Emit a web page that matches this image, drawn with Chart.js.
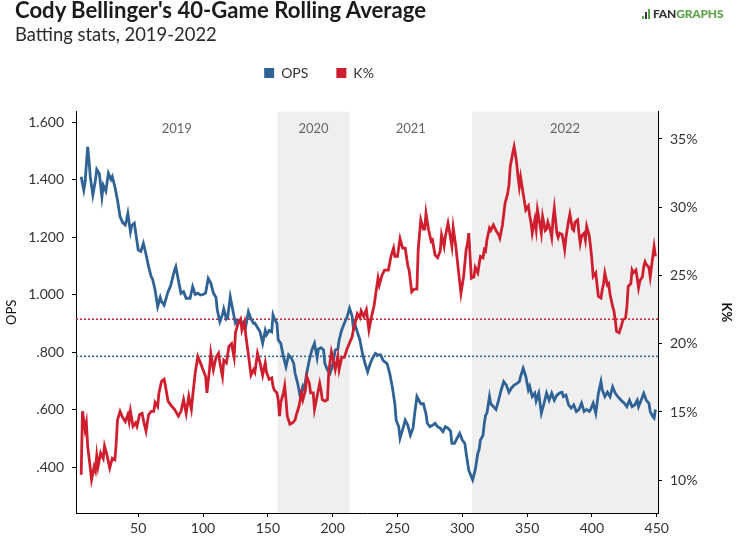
<!DOCTYPE html>
<html>
<head>
<meta charset="utf-8">
<script src="https://cdn.jsdelivr.net/npm/chart.js@4.4.1/dist/chart.umd.min.js"></script>
<style>
  html, body { margin: 0; padding: 0; background: #fff; overflow: hidden; }
  #wrap { position: relative; width: 738px; height: 541px; font-family: Lato, sans-serif; }
  #chart { position: absolute; left: 0; top: 0; }
  .hd { position: absolute; left: 15px; white-space: nowrap; line-height: 1.2; color: #1b1b1b; }
  #title { top: -3px; font-size: 21px; font-weight: 700; }
  #subtitle { top: 23px; font-size: 17px; color: #2a2a2a; }
  #logo { position: absolute; top: 7px; left: 641px; white-space: nowrap; font-size: 12px; font-weight: 900; line-height: 1.2; letter-spacing: -0.2px; }
  #logo .bars { display: inline-block; width: 12px; height: 10px; position: relative; vertical-align: -1px; }
  #logo .bars i { position: absolute; bottom: 0; width: 2px; }
  #logo .fan { color: #333; }
  #logo .graphs { color: #5aa547; }
</style>
</head>
<body>
<div id="wrap">
  <canvas id="chart" width="738" height="541"></canvas>
  <div class="hd" id="title">Cody Bellinger's 40-Game Rolling Average</div>
  <div class="hd" id="subtitle">Batting stats, 2019-2022</div>
  <div id="logo"><span class="bars"><i style="left:1px;height:3px;background:#5aa547"></i><i style="left:4px;height:7px;background:#333"></i><i style="left:7px;height:10px;background:#5aa547"></i></span><span class="fan">FAN</span><span class="graphs">GRAPHS</span></div>
</div>
<script>
// [game number, 40-game rolling OPS]
const opsByGame = [
  [6,1.41],[8,1.363],[9,1.39],[11,1.514],[12,1.468],[13,1.41],[15,1.346],[17,1.398],[18,1.435],[20,1.42],
  [22,1.34],[23,1.38],[25,1.36],[27,1.422],[29,1.40],[30,1.41],[32,1.375],[34,1.329],[36,1.271],[38,1.25],
  [40,1.242],[41,1.26],[42,1.282],[44,1.218],[45,1.24],[47,1.248],[50,1.155],[52,1.15],[54,1.178],[56,1.14],
  [58,1.097],[60,1.062],[61,1.055],[63,1.016],[65,0.958],[67,0.99],[68,0.975],[70,0.963],[73,1.01],[75,1.03],
  [78,1.085],[79,1.097],[81,1.05],[83,1.004],[85,1.01],[87,0.987],[90,0.987],[92,1.027],[94,1.0],[96,1.005],
  [98,0.998],[100,1.0],[102,1.005],[104,1.056],[106,1.04],[108,1.005],[110,0.99],[111,0.946],[113,0.905],[115,0.93],
  [116,0.95],[118,0.915],[119,0.92],[121,0.992],[123,0.945],[125,0.90],[127,0.91],[129,0.9],[131,0.905],[133,0.89],
  [135,0.94],[137,0.915],[139,0.90],[140,0.9],[142,0.885],[144,0.87],[146,0.83],[148,0.875],[149,0.86],[151,0.875],
  [153,0.87],[154,0.929],[155,0.917],[157,0.9],[158,0.842],[160,0.83],[162,0.784],[164,0.749],[166,0.79],[168,0.78],
  [170,0.76],[171,0.726],[173,0.691],[175,0.645],[177,0.68],[178,0.67],[180,0.726],[182,0.772],[184,0.807],[186,0.83],
  [188,0.78],[189,0.81],[191,0.815],[193,0.807],[194,0.76],[196,0.737],[198,0.726],[200,0.755],[202,0.807],[204,0.81],
  [205,0.842],[207,0.877],[209,0.9],[211,0.92],[213,0.952],[215,0.925],[216,0.882],[217,0.9],[219,0.87],[221,0.842],
  [223,0.795],[225,0.76],[227,0.731],[229,0.76],[231,0.78],[233,0.795],[235,0.79],[237,0.79],[239,0.77],[242,0.76],
  [244,0.726],[246,0.679],[248,0.62],[249,0.563],[251,0.54],[252,0.5],[254,0.53],[256,0.563],[258,0.545],[260,0.511],
  [262,0.535],[263,0.575],[265,0.645],[268,0.62],[270,0.62],[272,0.585],[273,0.552],[275,0.54],[277,0.545],[279,0.552],
  [281,0.54],[283,0.535],[285,0.523],[287,0.54],[289,0.535],[291,0.525],[292,0.482],[294,0.482],[296,0.5],[298,0.517],
  [300,0.494],[302,0.482],[303,0.448],[305,0.389],[307,0.366],[308,0.355],[310,0.39],[312,0.448],[313,0.46],[314,0.494],
  [316,0.51],[317,0.552],[318,0.58],[319,0.587],[321,0.645],[322,0.62],[324,0.61],[326,0.6],[328,0.632],[330,0.668],
  [332,0.697],[334,0.685],[336,0.66],[338,0.675],[340,0.685],[342,0.69],[344,0.697],[345,0.715],[347,0.743],[349,0.715],
  [351,0.668],[352,0.68],[354,0.645],[356,0.657],[357,0.63],[359,0.657],[361,0.587],[363,0.62],[365,0.657],[367,0.632],
  [369,0.657],[371,0.632],[373,0.65],[375,0.657],[377,0.66],[378,0.645],[380,0.65],[382,0.616],[384,0.605],[386,0.616],
  [388,0.593],[390,0.6],[392,0.622],[394,0.593],[396,0.6],[398,0.593],[399,0.6],[401,0.622],[403,0.587],[405,0.656],
  [407,0.697],[408,0.668],[410,0.645],[412,0.66],[414,0.645],[416,0.679],[418,0.657],[420,0.645],[421,0.64],[423,0.63],
  [425,0.622],[427,0.61],[429,0.632],[431,0.61],[433,0.616],[435,0.632],[436,0.61],[438,0.632],[440,0.656],[442,0.632],
  [444,0.622],[445,0.593],[447,0.575],[448,0.57],[449,0.6]
];

// [game number, 40-game rolling K%]
const kByGame = [
  [6,10.4],[7,15.05],[9,13.7],[10,14.2],[11,12.5],[13,10.9],[14,10.05],[16,11.0],[17,10.7],[18,11.8],
  [19,11.0],[21,12.0],[23,11.6],[24,12.5],[26,11.8],[28,10.9],[30,11.6],[32,11.5],[33,12.7],[34,14.4],
  [36,15.05],[38,14.6],[40,14.3],[42,14.8],[43,14.3],[44,15.05],[46,13.95],[48,14.2],[49,13.95],[51,14.8],
  [53,14.9],[54,14.4],[56,13.6],[58,14.8],[60,15.05],[62,15.05],[63,15.7],[65,15.4],[66,16.4],[68,17.25],
  [70,17.4],[71,16.9],[73,15.8],[76,15.4],[78,15.2],[81,14.7],[83,15.05],[85,15.9],[87,14.9],[89,16.15],
  [91,15.2],[92,16.15],[94,17.9],[96,19.07],[98,18.6],[100,18.1],[102,17.6],[103,16.4],[105,18.1],[106,19.3],
  [108,18.1],[110,19.0],[112,19.3],[113,18.6],[115,17.6],[116,18.8],[118,18.6],[120,19.8],[122,20.0],[124,19.0],
  [125,20.8],[127,21.5],[129,21.8],[130,21.0],[132,21.6],[133,20.6],[135,19.2],[137,17.7],[139,18.1],[140,17.9],
  [142,19.3],[144,18.6],[146,17.7],[148,18.6],[149,17.9],[151,17.4],[153,17.5],[154,16.9],[155,16.6],[157,16.4],
  [158,15.9],[159,14.7],[160,15.7],[162,16.4],[163,16.9],[164,15.9],[165,14.7],[167,14.1],[169,14.2],[171,14.4],
  [172,14.8],[174,15.4],[176,16.4],[177,15.9],[179,16.6],[180,17.6],[182,17.1],[183,16.4],[185,16.4],[186,15.2],
  [188,16.15],[190,17.1],[191,16.6],[192,15.9],[194,15.8],[196,15.9],[197,17.9],[199,19.4],[201,18.6],[202,18.1],
  [204,19.07],[205,18.1],[207,19.0],[209,19.0],[211,19.6],[213,20.06],[215,20.5],[216,21.0],[218,21.8],[219,22.2],
  [221,21.9],[222,22.4],[224,22.0],[226,22.5],[228,21.0],[230,22.0],[232,22.8],[233,23.5],[235,24.8],[236,24.3],
  [238,25.0],[240,25.4],[243,25.4],[245,26.4],[247,27.0],[248,26.4],[250,26.4],[252,27.7],[254,27.0],[256,27.0],
  [258,25.7],[259,25.4],[261,23.8],[263,24.0],[265,24.0],[266,26.9],[268,29.07],[270,28.4],[271,28.4],[272,29.56],
  [274,28.35],[276,27.5],[277,27.6],[279,26.5],[281,26.3],[283,26.8],[284,27.98],[286,27.15],[287,27.9],[289,28.83],
  [290,28.3],[292,27.15],[293,28.5],[295,27.15],[297,25.4],[299,23.7],[301,24.9],[303,26.9],[304,27.3],[305,28.1],
  [307,24.8],[309,24.9],[310,25.6],[312,25.2],[313,25.8],[314,26.4],[316,26.3],[317,26.9],[318,26.8],[319,27.6],
  [321,28.47],[322,28.3],[324,28.7],[326,28.3],[328,28.0],[329,27.74],[331,28.7],[333,30.3],[335,31.0],[336,31.6],
  [337,32.97],[339,34.0],[340,34.44],[341,33.9],[342,33.2],[343,32.24],[344,31.5],[345,32.2],[347,31.0],[348,30.4],
  [349,29.8],[351,30.1],[352,29.4],[353,28.9],[354,28.1],[356,29.1],[357,28.4],[358,29.8],[360,28.7],[361,28.1],
  [362,29.3],[364,28.3],[365,28.4],[366,28.9],[368,28.3],[369,27.8],[370,29.1],[371,29.93],[373,28.1],[374,27.8],
  [375,28.1],[377,28.0],[378,27.5],[379,26.9],[380,27.8],[382,29.0],[383,29.5],[385,28.4],[386,28.3],[387,28.9],
  [389,29.07],[390,28.1],[391,27.37],[392,27.9],[394,28.1],[395,27.6],[396,28.6],[398,27.9],[399,27.1],[400,26.15],
  [401,24.93],[403,25.2],[404,24.3],[405,23.46],[407,23.35],[408,23.95],[409,24.4],[410,25.17],[412,24.3],[413,24.4],
  [414,23.6],[416,22.73],[417,22.4],[418,21.76],[419,20.9],[421,20.8],[422,21.1],[423,21.4],[424,21.76],[426,21.9],
  [427,22.7],[428,24.2],[430,24.4],[431,25.4],[432,25.2],[434,25.4],[435,24.8],[436,24.1],[437,24.6],[439,24.9],
  [440,25.66],[441,26.0],[442,25.8],[444,25.6],[445,24.9],[446,25.66],[448,27.1],[449,26.4]
];

// reference lines
const opsAverage = 0.785;
const kAverage = 21.8;

// seasons: each one starts at the game number in seasonBounds, the last bound is the axis end
const seasonLabels = ['2019', '2020', '2021', '2022'];
const seasonBounds = [2, 157.5, 213, 307.5, 451];
const shadedSeasons = ['2020', '2022'];

const gameTicks = [50, 100, 150, 200, 250, 300, 350, 400, 450];
const opsTicks = [0.4, 0.6, 0.8, 1.0, 1.2, 1.4, 1.6];
const kTicks = [10, 15, 20, 25, 30, 35];

const BLUE = '#2f6396';
const RED = '#cf1f2e';

// size the header texts to the widths they have in the original
function fitWidth(id, target) {
  const el = document.getElementById(id);
  const size = parseFloat(getComputedStyle(el).fontSize);
  el.style.fontSize = (size * target / el.getBoundingClientRect().width) + 'px';
}
fitWidth('title', 411);
fitWidth('subtitle', 202);

Chart.defaults.font.family = 'Lato, sans-serif';
Chart.defaults.color = '#333';

const seasonBands = {
  id: 'seasonBands',
  beforeDatasetsDraw(chart) {
    const { ctx, chartArea, scales: { x } } = chart;
    ctx.save();
    seasonLabels.forEach((label, i) => {
      const x0 = x.getPixelForValue(seasonBounds[i]);
      const x1 = x.getPixelForValue(seasonBounds[i + 1]);
      if (shadedSeasons.includes(label)) {
        ctx.fillStyle = '#efefef';
        ctx.fillRect(x0, chartArea.top, x1 - x0, chartArea.bottom - chartArea.top);
      }
      ctx.fillStyle = '#666';
      ctx.font = '13px Lato, sans-serif';
      ctx.textAlign = 'center';
      ctx.textBaseline = 'middle';
      ctx.fillText(label, (x0 + x1) / 2, chartArea.top + 17);
    });
    ctx.restore();
  }
};

// legend sits higher and a bit left of centre in the original
const legendPlacement = {
  id: 'legendPlacement',
  beforeInit(chart) {
    const fit = chart.legend.fit;
    chart.legend.fit = function () {
      fit.call(this);
      this.height = 73.7;
    };
  },
  afterLayout(chart) {
    chart.legend.left -= 50;
    chart.legend.right -= 50;
  }
};

const toPoints = rows => rows.map(([g, v]) => ({ x: g, y: v }));
const flatLine = v => [{ x: seasonBounds[0], y: v }, { x: seasonBounds[seasonBounds.length - 1], y: v }];

new Chart(document.getElementById('chart'), {
  type: 'line',
  data: {
    datasets: [
      {
        label: 'OPS',
        data: toPoints(opsByGame),
        yAxisID: 'ops',
        borderColor: BLUE,
        backgroundColor: BLUE,
        borderWidth: 2.8,
        pointRadius: 0,
        order: 2
      },
      {
        label: 'K%',
        data: toPoints(kByGame),
        yAxisID: 'k',
        borderColor: RED,
        backgroundColor: RED,
        borderWidth: 2.8,
        pointRadius: 0,
        order: 1
      },
      {
        label: 'OPS avg',
        data: flatLine(opsAverage),
        yAxisID: 'ops',
        borderColor: BLUE,
        borderWidth: 1.5,
        borderDash: [2, 2],
        pointRadius: 0,
        order: 3
      },
      {
        label: 'K% avg',
        data: flatLine(kAverage),
        yAxisID: 'k',
        borderColor: RED,
        borderWidth: 1.5,
        borderDash: [2, 2],
        pointRadius: 0,
        order: 3
      }
    ]
  },
  options: {
    responsive: false,
    animation: false,
    layout: { padding: { top: 38, left: 0, right: 0, bottom: 0 } },
    plugins: {
      tooltip: { enabled: false },
      legend: {
        position: 'top',
        labels: {
          boxWidth: 10,
          boxHeight: 10,
          padding: 28,
          color: '#333',
          font: { size: 14 },
          generateLabels: chart => Chart.defaults.plugins.legend.labels.generateLabels(chart)
            .filter(item => item.datasetIndex < 2)
            .sort((a, b) => a.datasetIndex - b.datasetIndex)
            .map(item => ({ ...item, lineWidth: 0, fillStyle: item.strokeStyle }))
        }
      }
    },
    scales: {
      x: {
        type: 'linear',
        min: seasonBounds[0],
        max: seasonBounds[seasonBounds.length - 1],
        afterBuildTicks: s => { s.ticks = gameTicks.map(v => ({ value: v })); },
        afterFit: s => { s.height = 28; },
        grid: { drawOnChartArea: false, drawTicks: true, tickLength: 4, color: '#000' },
        border: { display: true, color: '#000', width: 1 },
        ticks: { padding: 3, color: '#333', font: { size: 14 }, maxRotation: 0 }
      },
      ops: {
        type: 'linear',
        position: 'left',
        min: 0.24,
        max: 1.636,
        afterBuildTicks: s => { s.ticks = opsTicks.map(v => ({ value: v })); },
        afterFit: s => { s.width = 76; },
        grid: { drawOnChartArea: false, drawTicks: true, tickLength: 4, color: '#000' },
        border: { display: true, color: '#000', width: 1 },
        title: { display: true, text: 'OPS', color: '#111', font: { size: 13 } },
        ticks: {
          padding: 8,
          color: '#333',
          font: { size: 14 },
          callback: v => v.toFixed(3).replace(/^0/, '')
        }
      },
      k: {
        type: 'linear',
        position: 'right',
        min: 7.6,
        max: 37,
        afterBuildTicks: s => { s.ticks = kTicks.map(v => ({ value: v })); },
        afterFit: s => { s.width = 80; },
        grid: { drawOnChartArea: false, drawTicks: true, tickLength: 4, color: '#000' },
        border: { display: true, color: '#000', width: 1 },
        title: { display: true, text: 'K%', color: '#111', font: { size: 13, weight: 'bold' } },
        ticks: {
          padding: 8,
          color: '#333',
          font: { size: 14 },
          callback: v => v + '%'
        }
      }
    }
  },
  plugins: [seasonBands, legendPlacement]
});
</script>
</body>
</html>
